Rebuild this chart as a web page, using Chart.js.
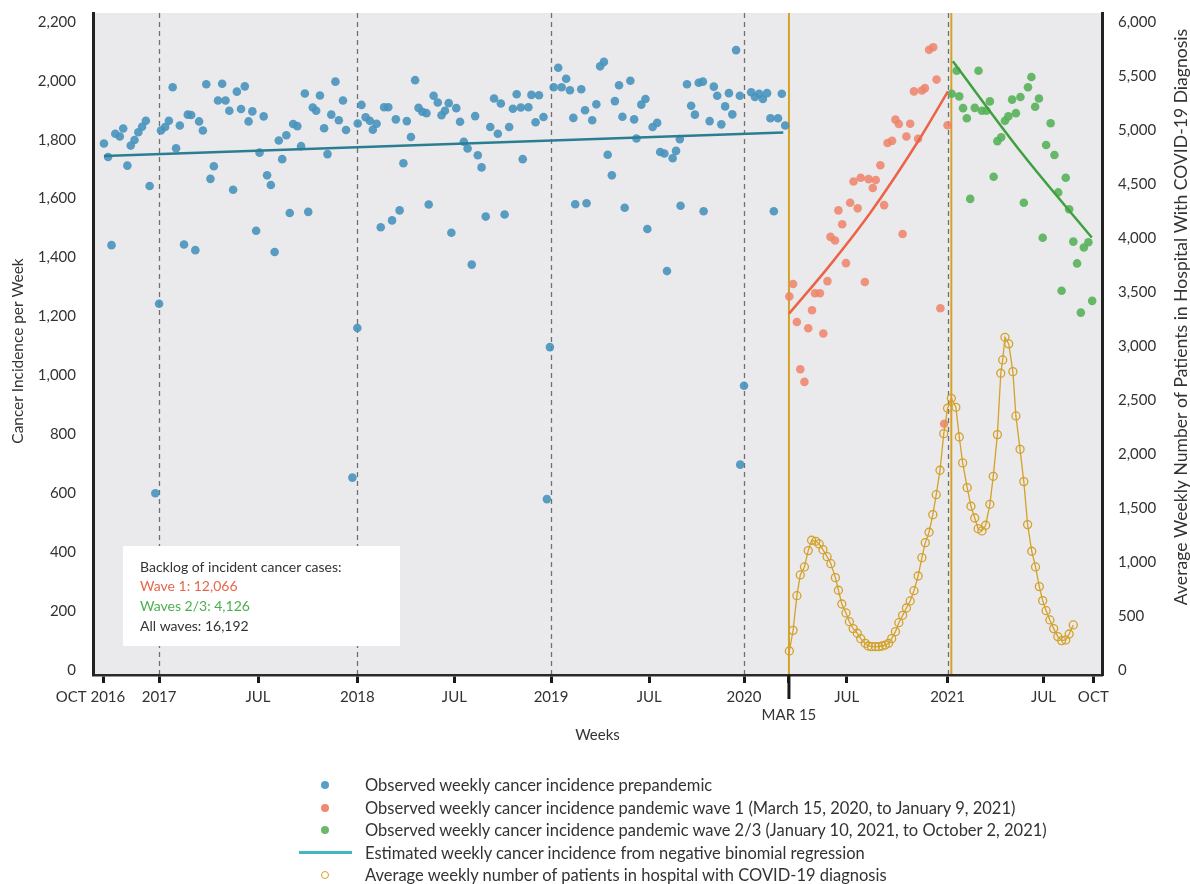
<!DOCTYPE html>
<html>
<head>
<meta charset="utf-8">
<script src="https://cdn.jsdelivr.net/npm/chart.js@4.4.0/dist/chart.umd.min.js"></script>
<style>
  html, body { margin: 0; padding: 0; background: #fff; }
  #wrap { position: relative; width: 1190px; height: 884px; font-family: Lato, "Noto Sans", sans-serif; }
  #legend { position: absolute; left: 297px; top: 774px; color: #333; font-size: 16.5px; }
  #legend .row { display: flex; align-items: center; height: 22.5px; white-space: nowrap; }
  #legend .mk { width: 56px; margin-right: 12px; display: flex; justify-content: center; align-items: center; }
  #legend .dot { width: 8px; height: 8px; border-radius: 50%; display: block; }
  #legend .ring { width: 6px; height: 6px; border-radius: 50%; border: 1.5px solid #D4A12A; display: block; }
  #legend .bar { width: 53px; height: 3px; background: #40B7C3; display: block; }
</style>
</head>
<body>
<div id="wrap">
  <canvas id="chart" width="1190" height="884"></canvas>
  <div id="legend">
    <div class="row"><span class="mk"><i class="dot" style="background:#5A9FC6"></i></span>Observed weekly cancer incidence prepandemic</div>
    <div class="row"><span class="mk"><i class="dot" style="background:#EE8A74"></i></span>Observed weekly cancer incidence pandemic wave 1 (March 15, 2020, to January 9, 2021)</div>
    <div class="row"><span class="mk"><i class="dot" style="background:#6BB86B"></i></span>Observed weekly cancer incidence pandemic wave 2/3 (January 10, 2021, to October 2, 2021)</div>
    <div class="row"><span class="mk"><i class="bar"></i></span>Estimated weekly cancer incidence from negative binomial regression</div>
    <div class="row"><span class="mk"><i class="ring"></i></span>Average weekly number of patients in hospital with COVID-19 diagnosis</div>
  </div>
</div>
<script>
// x values are weeks since the first observed week (early October 2016)
const xTickWeeks = [0, 14.6, 40.8, 67.1, 92.8, 118.4, 144.4, 169.5, 181.4, 196.7, 223.4, 248.8, 262.0];
const xTickLabels = ['OCT 2016       ', '2017', 'JUL', '2018', 'JUL', '2019', 'JUL', '2020', ['', 'MAR 15'], 'JUL', '2021', 'JUL', 'OCT'];
const yearLineWeeks = [14.6, 67.1, 118.4, 169.5, 223.4];
const waveStartWeeks = [181.4, 224.4];
const leftTicks = [0, 200, 400, 600, 800, 1000, 1200, 1400, 1600, 1800, 2000, 2200];
const rightTicks = [0, 500, 1000, 1500, 2000, 2500, 3000, 3500, 4000, 4500, 5000, 5500, 6000];

const prepWeeks = [0.0,1.1,2.0,3.0,4.2,5.1,6.2,7.1,8.1,9.1,10.1,11.1,12.1,13.6,14.6,15.1,16.2,17.2,18.2,19.1,
  20.1,21.2,22.2,23.1,24.2,25.2,26.2,27.1,28.2,29.1,30.2,31.3,32.2,33.2,34.2,35.2,36.3,37.3,38.3,39.3,
  40.3,41.2,42.3,43.2,44.2,45.2,46.3,47.2,48.3,49.2,50.1,51.2,52.2,53.2,54.1,55.3,56.2,57.2,58.3,59.2,
  60.2,61.3,62.2,63.3,64.1,65.8,67.1,67.2,68.2,69.3,70.4,71.2,72.2,73.3,74.2,75.3,76.3,77.3,78.3,79.3,
  80.2,81.3,82.4,83.3,84.3,85.4,86.0,87.3,88.4,89.4,90.3,91.3,92.0,93.3,94.3,95.3,96.3,97.4,98.3,99.0,
  100.0,101.1,102.3,103.3,104.3,105.1,106.1,107.3,108.3,109.3,110.4,110.9,112.4,113.2,114.3,115.2,116.4,117.3,118.1,119.1,
  120.3,121.2,122.4,123.4,124.3,124.8,126.4,127.4,127.8,129.3,130.4,131.4,132.4,133.4,134.5,135.3,136.4,137.3,137.9,139.4,
  140.4,141.0,142.3,143.4,143.9,145.3,146.5,147.3,148.4,149.1,150.6,151.5,152.5,152.7,154.4,155.5,156.5,157.5,158.6,158.8,
  160.4,161.5,162.4,163.5,164.5,165.5,166.4,167.4,168.4,168.5,169.5,171.4,172.4,173.5,174.5,175.6,176.5,177.4,178.5,179.5,
  180.4];
const prepCases = [1787,1741,1442,1820,1811,1838,1712,1780,1799,1825,1844,1864,1643,600,1243,1831,1843,1864,1978,1771,
  1848,1444,1885,1884,1425,1862,1831,1988,1667,1710,1933,1990,1933,1898,1630,1963,1904,1981,1862,1896,
  1491,1756,1879,1679,1646,1419,1797,1734,1815,1551,1853,1846,1778,1957,1555,1909,1898,1950,1839,1751,
  1885,1997,1866,1933,1833,653,1161,1855,1918,1876,1864,1834,1854,1503,1910,1910,1526,1869,1560,1720,
  1863,1809,2002,1908,1895,1890,1580,1949,1926,1883,1898,1924,1484,1907,1861,1793,1770,1376,1880,1747,
  1706,1539,1843,1940,1820,1923,1546,1843,1905,1954,1909,1734,1910,1952,1859,1951,1877,580,1096,1978,
  2044,1978,2007,1968,1874,1581,1971,1900,1584,1866,1920,2049,2064,1749,1679,1931,1985,1878,1569,2000,
  1869,1804,1919,1938,1497,1843,1857,1758,1753,1354,1737,1762,1802,1576,1988,1915,1885,1993,1997,1557,
  1863,1980,1949,1852,1913,1958,1886,2104,1949,697,965,1961,1945,1956,1938,1958,1873,1557,1873,1956,
  1848];

const wave1Weeks = [181.5,182.5,183.5,184.4,185.5,186.5,187.5,188.3,189.6,190.5,191.6,192.4,193.6,194.5,195.5,196.5,197.6,198.5,199.6,200.4,
  201.5,202.5,203.6,204.4,205.6,206.6,207.5,208.7,209.6,210.5,211.5,212.5,213.5,214.5,215.6,216.6,217.4,218.5,219.6,220.5,
  221.5,222.5,223.4];
const wave1Cases = [1268,1310,1181,1021,978,1160,1221,1279,1279,1142,1320,1470,1458,1560,1513,1381,1586,1658,1567,1671,
  1317,1666,1636,1663,1713,1578,1789,1796,1868,1853,1480,1811,1854,1964,1803,1967,1975,2105,2114,2004,
  1228,836,1849];

const wave23Weeks = [224.5,225.8,226.5,227.5,228.5,229.4,230.6,231.6,232.5,233.7,234.6,235.6,236.6,237.6,238.6,239.5,240.5,241.5,242.7,243.6,
  244.7,245.6,246.6,247.6,248.6,249.5,250.7,251.7,252.7,253.6,254.7,255.6,256.7,257.7,258.7,259.5,260.7,261.7];
const wave23Cases = [1956,2034,1947,1907,1873,1599,1908,2034,1898,1898,1930,1674,1795,1808,1864,1879,1936,1890,1945,1586,
  1978,2013,1912,1940,1467,1782,1856,1748,1621,1287,1671,1564,1454,1380,1213,1434,1452,1253];

const covidWeeks = [181.5,182.5,183.5,184.4,185.5,186.5,187.4,188.5,189.4,190.4,191.5,192.5,193.7,194.5,195.4,196.5,197.4,198.4,199.5,200.4,
  201.6,202.4,203.3,204.3,205.2,206.1,206.9,207.8,208.6,209.6,210.5,211.5,212.5,213.5,214.5,215.6,216.6,217.5,218.5,219.5,
  220.4,221.4,222.4,223.4,224.4,225.6,226.5,227.4,228.6,229.6,230.6,231.5,232.5,233.5,234.6,235.5,236.6,237.5,238.0,238.6,
  239.6,240.7,241.5,242.6,243.6,244.6,245.7,246.7,247.7,248.6,249.5,250.5,251.5,252.6,253.6,254.7,255.6,256.7];
const covidPatients = [176,367,688,880,954,1105,1201,1191,1167,1114,1049,984,855,738,611,528,447,383,340,290,
  247,222,216,216,216,222,231,247,290,355,438,506,574,639,734,870,1040,1179,1275,1438,
  1623,1849,2188,2423,2515,2432,2157,1917,1688,1516,1407,1308,1287,1340,1534,1793,2179,2747,2870,3080,
  3019,2762,2352,2043,1744,1346,1099,954,772,642,549,463,383,309,272,278,333,417];

// fitted (negative binomial) curves
const fitPrepWeeks = [0, 179.9];
const fitPrepCases = [1745, 1824];
const fitWave1Weeks = [181.4, 192.0, 202.9, 216.1, 223.5];
const fitWave1Cases = [1209, 1370, 1551, 1805, 1964];
const fitWave23Weeks = [224.8, 243.2, 261.6];
const fitWave23Cases = [2066, 1752, 1468];

const FONT = 'Lato, "Noto Sans", sans-serif';
const pts = (xs, ys) => xs.map((x, i) => ({ x: x, y: ys[i] }));

// y scales should not push the chart area down for their top label
const fixWidth = w => s => { s.width = w; s.paddingTop = 0; s.paddingBottom = 0; };

const decor = {
  id: 'decor',
  beforeDraw(chart) {
    const { ctx, chartArea: a } = chart;
    ctx.save();
    ctx.fillStyle = '#EAEAEC';
    ctx.fillRect(a.left, a.top, a.right - a.left, a.bottom - a.top);
    ctx.restore();
  },
  beforeDatasetsDraw(chart) {
    const { ctx, chartArea: a, scales: { x } } = chart;
    ctx.save();
    ctx.setLineDash([5, 4]);
    ctx.strokeStyle = '#707070';
    ctx.lineWidth = 1.3;
    yearLineWeeks.forEach(w => {
      const px = Math.round(x.getPixelForValue(w)) + 0.5;
      ctx.beginPath(); ctx.moveTo(px, a.top); ctx.lineTo(px, a.bottom - 1); ctx.stroke();
    });
    ctx.setLineDash([]);
    ctx.strokeStyle = '#D4A12A';
    ctx.lineWidth = 2;
    waveStartWeeks.forEach(w => {
      const px = x.getPixelForValue(w);
      ctx.beginPath(); ctx.moveTo(px, a.top); ctx.lineTo(px, a.bottom - 1); ctx.stroke();
    });
    // longer tick for MAR 15
    const mx = x.getPixelForValue(waveStartWeeks[0]);
    ctx.strokeStyle = '#1a1a1a';
    ctx.lineWidth = 3;
    ctx.beginPath(); ctx.moveTo(mx, a.bottom); ctx.lineTo(mx, a.bottom + 24); ctx.stroke();
    ctx.restore();
  },
  afterDatasetsDraw(chart) {
    const { ctx, chartArea: a } = chart;
    const bx = a.left + 30, by = a.bottom - 129;
    ctx.save();
    ctx.fillStyle = '#fff';
    ctx.fillRect(bx, by, 277, 100);
    ctx.font = '14px ' + FONT;
    ctx.textBaseline = 'middle';
    const lines = [
      ['Backlog of incident cancer cases:', '#333'],
      ['Wave 1: 12,066', '#E8664A'],
      ['Waves 2/3: 4,126', '#4CAF50'],
      ['All waves: 16,192', '#333']
    ];
    lines.forEach((l, i) => {
      ctx.fillStyle = l[1];
      ctx.fillText(l[0], bx + 17, by + 21 + i * 19.7);
    });
    ctx.restore();
  },
  afterDraw(chart) {
    // both vertical axis titles read bottom to top
    const { ctx, chartArea: a } = chart;
    const titles = [
      ['Cancer Incidence per Week', 15.4, a.left - 75, a.top + 338],
      ['Average Weekly Number of Patients in Hospital With COVID-19 Diagnosis', 17.6, a.right + 79, a.top + 304]
    ];
    ctx.save();
    ctx.fillStyle = '#333';
    ctx.textAlign = 'center';
    ctx.textBaseline = 'middle';
    titles.forEach(t => {
      ctx.save();
      ctx.font = t[1] + 'px ' + FONT;
      ctx.translate(t[2], t[3]);
      ctx.rotate(-Math.PI / 2);
      ctx.fillText(t[0], 0, 0);
      ctx.restore();
    });
    ctx.restore();
  }
};

new Chart(document.getElementById('chart'), {
  type: 'scatter',
  data: {
    datasets: [
      { type: 'line', data: pts(fitPrepWeeks, fitPrepCases), borderColor: '#2B7E91', borderWidth: 2.5, pointRadius: 0, yAxisID: 'y' },
      { type: 'line', data: pts(fitWave1Weeks, fitWave1Cases), borderColor: '#EC6345', borderWidth: 2.5, pointRadius: 0, cubicInterpolationMode: 'monotone', yAxisID: 'y' },
      { type: 'line', data: pts(fitWave23Weeks, fitWave23Cases), borderColor: '#3FA03E', borderWidth: 2.5, pointRadius: 0, cubicInterpolationMode: 'monotone', yAxisID: 'y' },
      { type: 'line', data: pts(covidWeeks, covidPatients), borderColor: '#D4A12A', borderWidth: 1.3, pointRadius: 4, pointBorderWidth: 1.3,
        pointBackgroundColor: 'rgba(0,0,0,0)', pointBorderColor: '#D4A12A', yAxisID: 'y2' },
      { data: pts(prepWeeks, prepCases), backgroundColor: 'rgba(72,148,190,0.9)', pointRadius: 4.3, borderWidth: 0, yAxisID: 'y' },
      { data: pts(wave1Weeks, wave1Cases), backgroundColor: 'rgba(238,130,106,0.85)', pointRadius: 4.3, borderWidth: 0, yAxisID: 'y' },
      { data: pts(wave23Weeks, wave23Cases), backgroundColor: 'rgba(88,178,90,0.9)', pointRadius: 4.3, borderWidth: 0, yAxisID: 'y' }
    ]
  },
  options: {
    responsive: false,
    animation: false,
    layout: { padding: { top: 13, left: 0, right: 0, bottom: 139 } },
    plugins: { legend: { display: false }, tooltip: { enabled: false } },
    scales: {
      x: {
        type: 'linear', min: -2.9, max: 264.3,
        afterBuildTicks: s => { s.ticks = xTickWeeks.map(v => ({ value: v })); },
        afterFit: s => { s.height = 70; s.paddingLeft = 0; s.paddingRight = 0; },
        ticks: { autoSkip: false, maxRotation: 0, padding: 5, color: '#333', font: { family: FONT, size: 15 },
          callback: (v, i) => xTickLabels[i] },
        grid: { drawOnChartArea: false, drawTicks: true, tickLength: 8, tickWidth: 3, tickColor: '#1a1a1a' },
        border: { color: '#2a2a2a', width: 2.5 },
        title: { display: true, text: 'Weeks', color: '#333', font: { family: FONT, size: 15 }, padding: { top: 0, bottom: 1 } }
      },
      y: {
        position: 'left', min: -17, max: 2230,
        afterBuildTicks: s => { s.ticks = leftTicks.map(v => ({ value: v })); },
        afterFit: fixWidth(93),
        ticks: { padding: 17, color: '#333', font: { family: FONT, size: 15 }, callback: v => v.toLocaleString('en-US') },
        grid: { display: false, drawTicks: false },
        border: { color: '#222', width: 3 }
      },
      y2: {
        position: 'right', min: -46.4, max: 6082,
        afterBuildTicks: s => { s.ticks = rightTicks.map(v => ({ value: v })); },
        afterFit: fixWidth(88),
        ticks: { padding: 16, color: '#333', font: { family: FONT, size: 15 }, callback: v => v.toLocaleString('en-US') },
        grid: { display: false, drawTicks: false },
        border: { color: '#222', width: 3 }
      }
    }
  },
  plugins: [decor]
});
</script>
</body>
</html>
